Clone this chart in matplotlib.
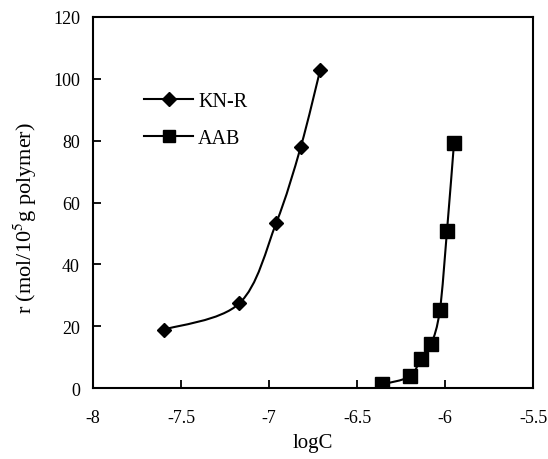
import numpy as np
import matplotlib
matplotlib.use('Agg')
import matplotlib.pyplot as plt
from matplotlib.path import Path
from matplotlib.patches import PathPatch
from matplotlib.lines import Line2D

plt.rcParams['font.family'] = ['Liberation Serif', 'DejaVu Serif']
plt.rcParams['mathtext.fontset'] = 'stix'

# data
knr_logc = [-7.60, -7.17, -6.96, -6.82, -6.71]
knr_r = [18.9, 27.4, 53.4, 78.1, 102.9]
aab_logc = [-6.36, -6.20, -6.14, -6.08, -6.03, -5.99, -5.95]
aab_r = [1.2, 3.8, 9.4, 14.2, 25.3, 50.7, 79.2]

# smoothed line (Catmull-Rom style bezier, like spreadsheet smoothing)
def smooth_path(xs, ys):
    p = np.column_stack([xs, ys])
    n = len(p)
    verts = [p[0]]
    codes = [Path.MOVETO]
    for i in range(n - 1):
        p0 = p[i - 1] if i > 0 else p[i]
        p3 = p[i + 2] if i + 2 < n else p[i + 1]
        c1 = p[i] + (p[i + 1] - p0) / 6.0
        c2 = p[i + 1] - (p3 - p[i]) / 6.0
        verts += [c1, c2, p[i + 1]]
        codes += [Path.CURVE4] * 3
    return Path(verts, codes)

fig = plt.figure(figsize=(5.48, 4.6), dpi=100)
ax = fig.add_axes([0.170, 0.154, 0.803, 0.807])

for xs, ys, mk, ms in [(knr_logc, knr_r, 'D', 7.5), (aab_logc, aab_r, 's', 9.5)]:
    ax.add_patch(PathPatch(smooth_path(xs, ys), fill=False, lw=1.5, color='black'))
    ax.plot(xs, ys, linestyle='none', marker=mk, ms=ms, color='black', zorder=3)

ax.set_xlim(-8, -5.5)
ax.set_ylim(0, 120)
ax.set_xticks([-8, -7.5, -7, -6.5, -6, -5.5])
ax.set_xticklabels(['-8', '-7.5', '-7', '-6.5', '-6', '-5.5'])
ax.set_yticks([0, 20, 40, 60, 80, 100, 120])
ax.tick_params(direction='in', length=6, width=1.3, labelsize=13)
ax.tick_params(axis='x', pad=15)
ax.tick_params(axis='y', pad=9.5)
for s in ax.spines.values():
    s.set_linewidth(1.5)

ax.set_xlabel('logC', fontsize=15, labelpad=5)
ax.set_ylabel('r (mol/10$^5$g polymer)', fontsize=16)
ax.yaxis.set_label_coords(-0.123, 0.46)

handles = [Line2D([], [], color='black', lw=1.5, marker='D', ms=7),
           Line2D([], [], color='black', lw=1.5, marker='s', ms=9)]
ax.legend(handles, ['KN-R', 'AAB'], loc='upper left', bbox_to_anchor=(0.116, 0.797),
          frameon=False, fontsize=14.5, handlelength=2.42, handletextpad=0.25,
          labelspacing=0.85, borderpad=0, borderaxespad=0)

fig.savefig('out.png', dpi=100)
